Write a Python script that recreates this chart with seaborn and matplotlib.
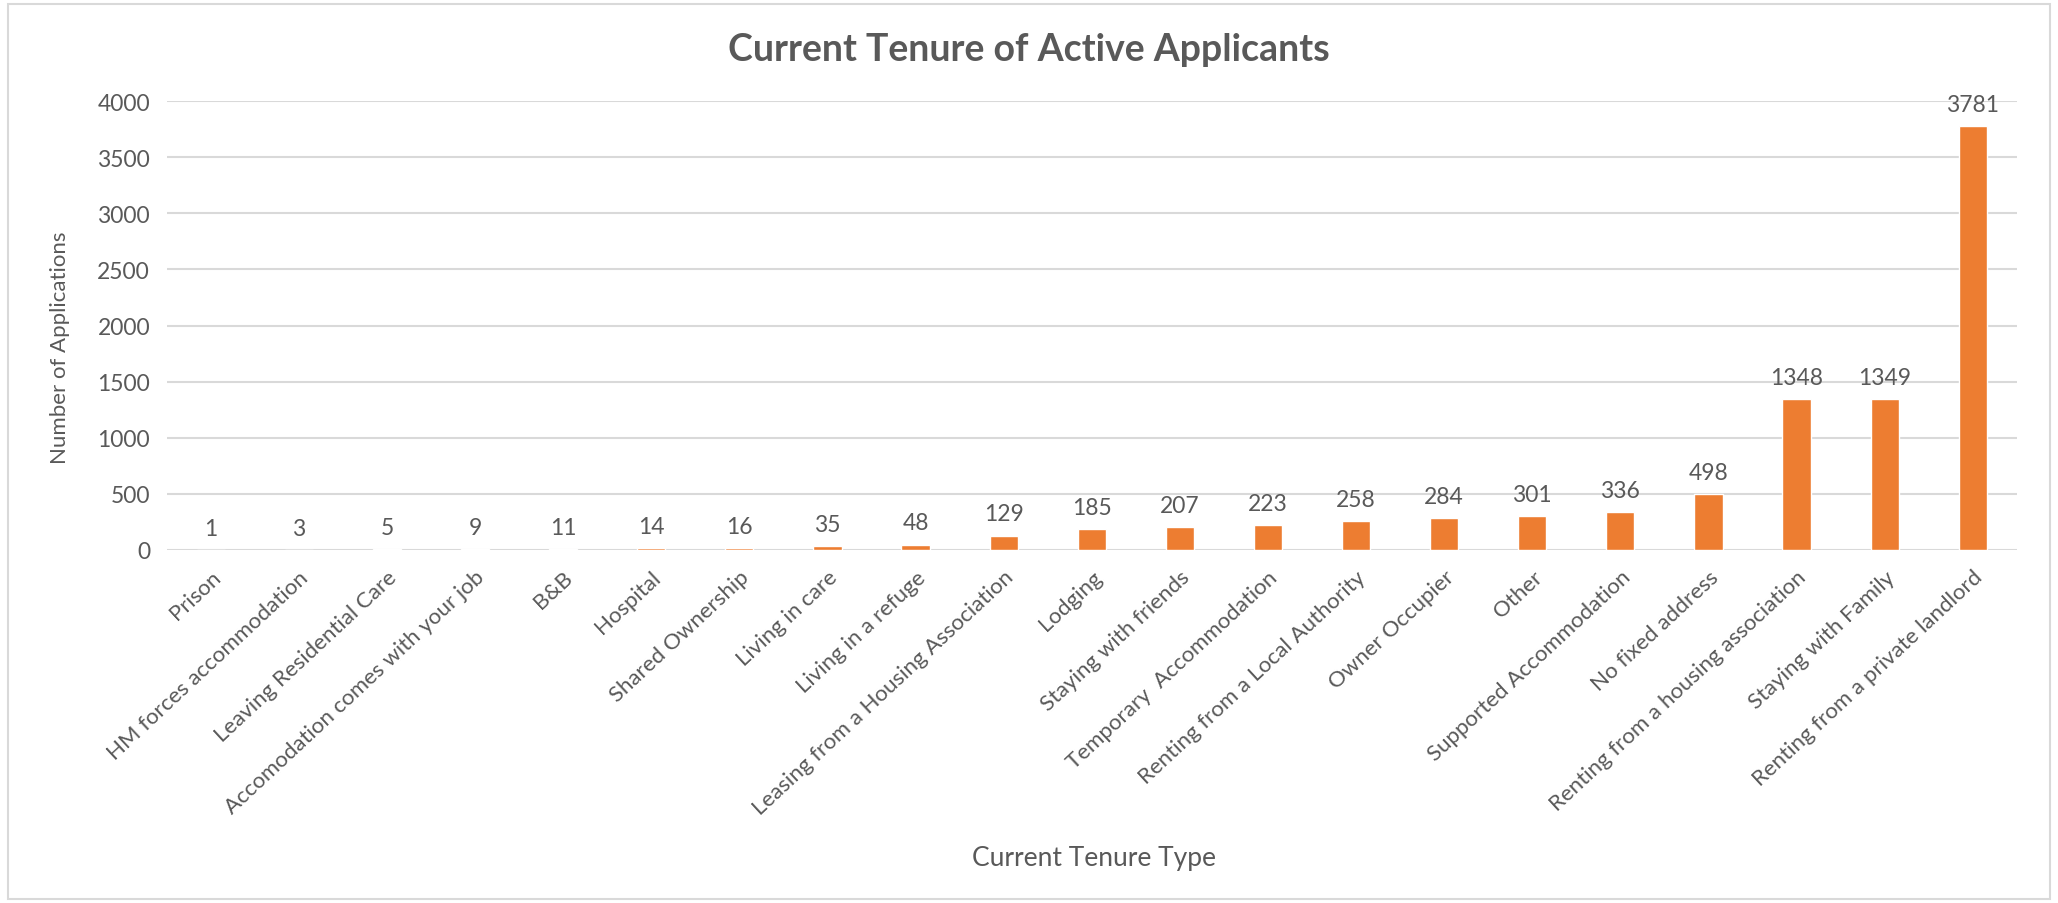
import pandas as pd
import numpy as np
import matplotlib
matplotlib.use("Agg")
import matplotlib.pyplot as plt
from matplotlib.patches import Rectangle
import seaborn as sns

# tenure types, sorted as in the report
categories = [
    "Prison", "HM forces accommodation", "Leaving Residential Care",
    "Accomodation comes with your job", "B&B", "Hospital", "Shared Ownership",
    "Living in care", "Living in a refuge", "Leasing from a Housing Association",
    "Lodging", "Staying with friends", "Temporary  Accommodation",
    "Renting from a Local Authority", "Owner Occupier", "Other",
    "Supported Accommodation", "No fixed address",
    "Renting from a housing association", "Staying with Family",
    "Renting from a private landlord",
]
applications = [1, 3, 5, 9, 11, 14, 16, 35, 48, 129, 185, 207, 223, 258,
                284, 301, 336, 498, 1348, 1349, 3781]
y_ticks = [0, 500, 1000, 1500, 2000, 2500, 3000, 3500, 4000]

df = pd.DataFrame({"tenure": categories, "count": applications})

sns.set_theme(style="white")
plt.rcParams["font.family"] = ["Lato", "DejaVu Sans"]

grey = "#595959"
orange = "#ED7D31"

fig = plt.figure(figsize=(20.58, 9.04), dpi=100)
ax = fig.add_axes([0.081, 0.3905, 0.899, 0.4965])

sns.barplot(data=df, x="tenure", y="count", color=orange, width=0.32,
            saturation=1, ax=ax)

ax.set_ylim(0, 4000)
ax.set_yticks(y_ticks)
ax.yaxis.grid(True, color="#D9D9D9", linewidth=1.5)
ax.set_axisbelow(True)
for s in ax.spines.values():
    s.set_visible(False)

ax.tick_params(axis="both", length=0, colors=grey)
ax.tick_params(axis="y", pad=12, labelsize=16.5)
ax.tick_params(axis="x", pad=12, labelsize=16)
plt.setp(ax.get_xticklabels(), rotation=43, ha="right",
         rotation_mode="anchor")

ax.bar_label(ax.containers[0], padding=8, fontsize=16.5, color=grey)

ax.set_xlabel("Current Tenure Type", fontsize=19, color=grey)
ax.xaxis.set_label_coords(0.501, -0.657)
ax.set_ylabel("Number of Applications", fontsize=16, color=grey)
ax.yaxis.set_label_coords(-0.052, 0.452)
fig.text(0.5, 0.945, "Current Tenure of Active Applicants", ha="center",
         va="center", fontsize=27, fontweight="bold", color=grey)

# light frame round the whole chart, like the Excel chart area
fig.patches.append(Rectangle((0.004, 0.004), 0.992, 0.99,
                             transform=fig.transFigure, fill=False,
                             edgecolor="#D9D9D9", linewidth=1.5))

plt.savefig("out.png", dpi=100)
